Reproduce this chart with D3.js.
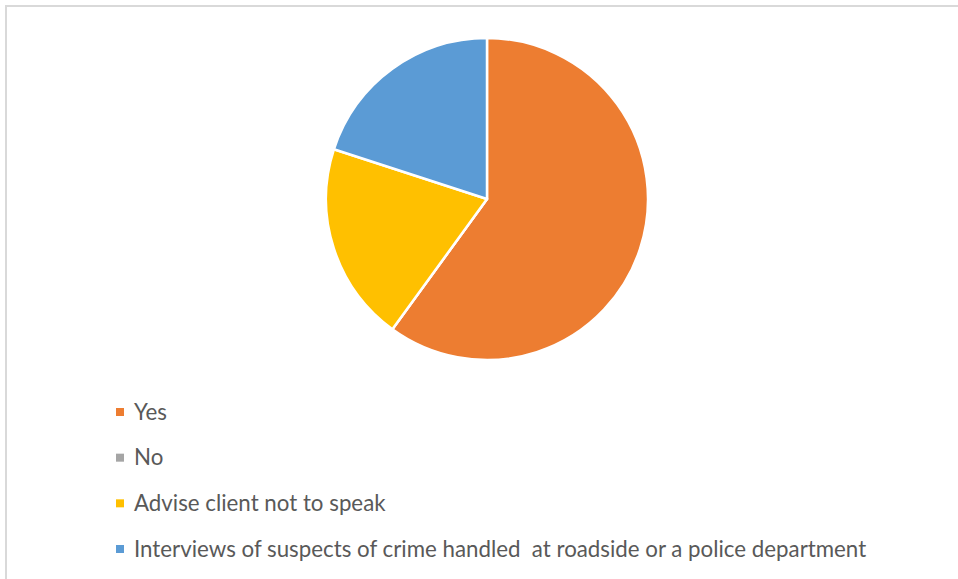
<!DOCTYPE html>
<html>
<head>
<meta charset="utf-8">
<script src="https://cdn.jsdelivr.net/npm/d3@7"></script>
<style>
  html, body { margin: 0; padding: 0; background: #fff; }
  svg { display: block; }
</style>
</head>
<body>
<svg id="chart" width="958" height="579"></svg>
<script>
// Survey answers and their counts
const categories = ["Yes", "No", "Advise client not to speak", "Interviews of suspects of crime handled\u00a0 at roadside or a police department"];
const values = [3, 0, 1, 1];
const colors = ["#ED7D31", "#A5A5A5", "#FFC000", "#5B9BD5"];

const svg = d3.select("#chart");

// chart frame (only top and left edges fall inside the view)
svg.append("rect")
  .attr("x", 6).attr("y", 6)
  .attr("width", 1000).attr("height", 1000)
  .attr("fill", "#fff")
  .attr("stroke", "#D9D9D9")
  .attr("stroke-width", 2);

const data = categories.map((c, i) => ({ name: c, value: values[i], color: colors[i] }));

const pie = d3.pie().sort(null).value(d => d.value);
const arc = d3.arc().innerRadius(0).outerRadius(161);

const g = svg.append("g").attr("transform", "translate(487,199)");
g.selectAll("path")
  .data(pie(data))
  .join("path")
  .attr("d", arc)
  .attr("fill", d => d.data.color)
  .attr("stroke", "#fff")
  .attr("stroke-width", 2.5)
  .attr("stroke-linejoin", "round");

// legend
const legendY = d3.scalePoint().domain(categories).range([412, 549]);
const legend = svg.append("g");
const items = legend.selectAll("g")
  .data(data)
  .join("g")
  .attr("transform", d => `translate(116,${legendY(d.name)})`);
items.append("rect")
  .attr("x", 0).attr("y", -4)
  .attr("width", 8).attr("height", 8)
  .attr("fill", d => d.color);
items.append("text")
  .attr("x", 18).attr("y", 0)
  .attr("dy", "0.35em")
  .attr("fill", "#595959")
  .attr("font-family", "Lato, 'Open Sans', sans-serif")
  .attr("font-size", 22.3)
  .attr("xml:space", "preserve")
  .text(d => d.name);
</script>
</body>
</html>
